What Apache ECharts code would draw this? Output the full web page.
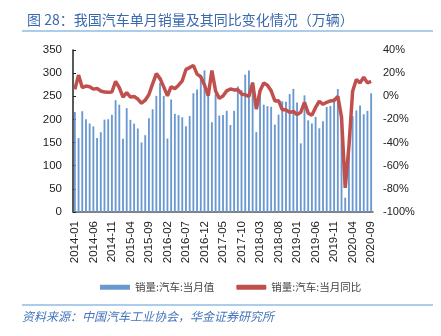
<!DOCTYPE html>
<html><head><meta charset="utf-8">
<script src="https://cdn.jsdelivr.net/npm/echarts@6/dist/echarts.min.js"></script>
<style>html,body{margin:0;padding:0;background:#fff}#c{width:441px;height:336px}</style>
</head><body><div id="c"></div>
<script>
const months = [];
for (let y = 2014; y <= 2020; y++) for (let m = 1; m <= 12; m++) { if (y === 2020 && m > 9) break; months.push(y + '-' + String(m).padStart(2, '0')); }
const sales = [
  216.0,159.6,217.7,200.6,191.2,184.9,159.9,172.4,199.6,200.4,209.8,241.6,
  231.9,158.3,224.4,199.1,190.8,180.4,150.3,166.0,202.5,222.0,250.9,278.6,
  250.8,158.7,243.1,212.2,209.2,204.6,185.2,207.2,256.6,264.6,293.4,306.0,
  252.0,193.9,254.4,208.4,209.6,218.6,187.9,218.6,271.3,263.3,296.9,305.9,
  280.9,172.6,265.6,231.9,228.8,227.4,188.9,210.3,239.4,238.0,254.8,266.1,
  236.7,148.2,252.0,198.0,191.3,205.6,180.8,195.8,227.1,229.1,246.2,265.6,
  194.1,31.0,143.1,207.0,219.4,230.0,211.2,218.6,256.5
];
const yoy = [
  6.0,18.3,7.5,8.8,8.3,6.2,6.8,4.6,3.6,3.5,3.7,12.9,
  7.4,-0.8,3.1,-0.7,-0.2,-2.4,-6.0,-3.4,1.5,10.8,19.6,15.3,
  8.1,0.3,8.3,6.6,9.6,13.4,23.2,24.8,26.7,19.2,16.9,9.8,
  0.5,22.2,4.6,-1.8,0.2,4.7,6.3,5.5,5.7,2.0,1.2,0.0,
  11.6,-11.1,4.7,11.5,9.6,4.8,-4.0,-3.8,-11.6,-11.7,-13.9,-13.0,
  -15.8,-13.8,-5.2,-14.6,-16.4,-9.6,-4.3,-6.9,-5.2,-4.0,-3.6,-0.1,
  -18.0,-79.1,-43.3,4.4,14.5,11.6,16.4,11.6,12.8
];
const leftTicks = [0, 350, 50];
const rightTicks = [-100, 40, 20];
const barName = '销量:汽车:当月值';
const lineName = '销量:汽车:当月同比';
const titleText = '图 28：我国汽车单月销量及其同比变化情况（万辆）';
const sourceText = '资料来源：中国汽车工业协会，华金证券研究所';

const ff = '"Liberation Sans", Arial, "Noto Sans CJK SC", sans-serif';
const chart = echarts.init(document.getElementById('c'), null, {renderer: 'canvas'});
chart.setOption({
  animation: false,
  textStyle: {fontFamily: ff},
  title: {text: titleText, left: 22, top: 8, textStyle: {fontSize: 14, fontWeight: 'normal', color: '#3a69ae', fontFamily: '"Noto Sans CJK SC", sans-serif'}},
  graphic: [
    {type: 'line', shape: {x1: 22, y1: 31, x2: 433, y2: 31}, style: {stroke: '#5b9bd5', lineWidth: 1.2}},
    {type: 'line', shape: {x1: 22, y1: 305, x2: 433, y2: 305}, style: {stroke: '#5b9bd5', lineWidth: 1.2}},
    {type: 'text', left: 22, top: 310, style: {text: sourceText, fill: '#4475bb', font: 'italic 12px "Noto Sans CJK SC", sans-serif'}}
  ],
  legend: {
    top: 277, left: 95, itemGap: 22, itemWidth: 30, itemHeight: 5,
    textStyle: {fontSize: 10.5, color: '#444', fontFamily: '"Noto Sans CJK SC", sans-serif'},
    data: [{name: barName, icon: 'rect'}, {name: lineName, icon: 'roundRect'}]
  },
  grid: {left: 73, right: 68, top: 50, bottom: 124},
  xAxis: {
    type: 'category', data: months, boundaryGap: true,
    axisLine: {lineStyle: {color: '#555', width: 1.5}},
    axisTick: {show: false},
    axisLabel: {rotate: 90, interval: 4, fontSize: 11.5, color: '#222', margin: 9}
  },
  yAxis: [
    {type: 'value', min: leftTicks[0], max: leftTicks[1], interval: leftTicks[2],
     axisLine: {show: true, lineStyle: {color: '#222', width: 1.5}},
     axisTick: {show: true, inside: true, length: 3, lineStyle: {color: '#222'}},
     splitLine: {show: false},
     axisLabel: {fontSize: 11.5, color: '#222', margin: 11}},
    {type: 'value', min: rightTicks[0], max: rightTicks[1], interval: rightTicks[2],
     axisLine: {show: false}, axisTick: {show: false}, splitLine: {show: false},
     axisLabel: {fontSize: 11, color: '#222', margin: 10, formatter: v => v + '%'}}
  ],
  series: [
    {name: barName, type: 'bar', data: sales, barWidth: '50%', yAxisIndex: 0,
     itemStyle: {color: '#6a98d0'}},
    {name: lineName, type: 'line', data: yoy, yAxisIndex: 1, showSymbol: false, symbol: 'none',
     lineStyle: {color: '#c0504d', width: 3.5}, itemStyle: {color: '#c0504d'}, z: 5}
  ]
});
</script></body></html>
